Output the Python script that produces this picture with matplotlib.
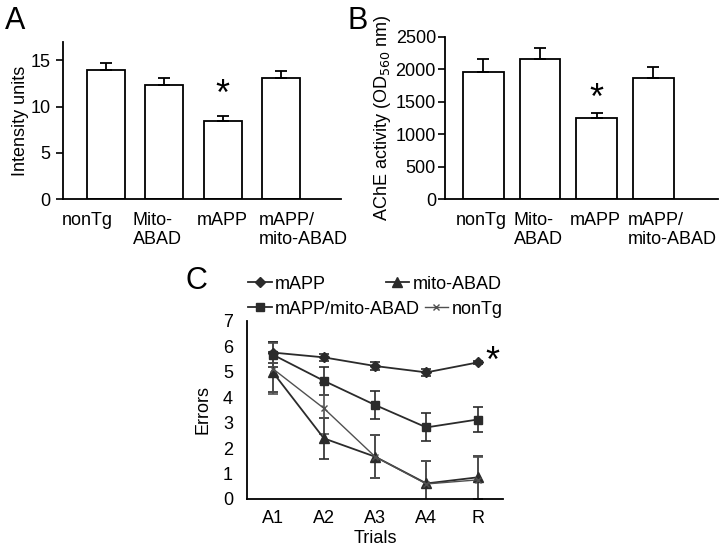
import numpy as np
import matplotlib
matplotlib.use('Agg')
from matplotlib import pyplot as plt
from matplotlib.lines import Line2D

plt.rcParams['font.family'] = ['Liberation Sans', 'DejaVu Sans']
plt.rcParams['font.size'] = 13

# panel A / B data
groups = ['nonTg', 'Mito-\nABAD', 'mAPP', 'mAPP/\nmito-ABAD']
intensity = [14.0, 12.35, 8.5, 13.1]
intensity_err = [0.75, 0.75, 0.45, 0.75]
ache = [1965, 2155, 1250, 1860]
ache_err = [190, 170, 82, 170]

# panel C data
trials = ['A1', 'A2', 'A3', 'A4', 'R']
err_mapp = [5.75, 5.56, 5.22, 4.97, 5.36]
err_mapp_sd = [0.4, 0.15, 0.15, 0.15, 0.07]
err_double = [5.67, 4.64, 3.69, 2.81, 3.12]
err_double_sd = [0.5, 0.55, 0.55, 0.55, 0.5]
err_mito = [4.99, 2.38, 1.66, 0.61, 0.85]
err_mito_sd = [0.8, 0.8, 0.85, 0.9, 0.85]
err_nontg = [5.12, 3.56, 1.66, 0.59, 0.75]
err_nontg_sd = [1.0, 1.0, 0.85, 0.9, 0.9]

fig = plt.figure(figsize=(7.2, 5.51), dpi=100)


def style_axes(ax, ticklen=5, ypad=4, xpad=9):
    for s in ['top', 'right']:
        ax.spines[s].set_visible(False)
    for s in ['left', 'bottom']:
        ax.spines[s].set_linewidth(1.3)
    ax.tick_params(axis='y', direction='out', length=ticklen, width=1.2, pad=ypad)
    ax.tick_params(axis='x', length=0, pad=xpad)


# ---- A
axA = fig.add_axes([0.0875, 0.6388, 0.3861, 0.285])
x = np.arange(len(groups))
axA.bar(x, intensity, width=0.65, color='white', edgecolor='black', linewidth=1.3,
        yerr=[np.zeros(len(x)), intensity_err], capsize=4,
        error_kw=dict(ecolor='black', elinewidth=1.3, capthick=1.3))
axA.set_xlim(-0.74, 4.03)
axA.set_ylim(0, 17)
axA.set_yticks([0, 5, 10, 15])
# labels sit a little off the bar centres in the original
axA.set_xticks(x + np.array([-0.33, -0.12, 0.0, 0.38]))
axA.set_xticklabels(groups, multialignment='left')
axA.set_ylabel('Intensity units', labelpad=1)
style_axes(axA)
axA.text(2, 11.2, '*', ha='center', va='center', fontsize=26)
fig.text(0.007, 0.99, 'A', fontsize=22, va='top')

# ---- B
axB = fig.add_axes([0.618, 0.6388, 0.379, 0.2941])
axB.bar(x, ache, width=0.72, color='white', edgecolor='black', linewidth=1.3,
        yerr=[np.zeros(len(x)), ache_err], capsize=4,
        error_kw=dict(ecolor='black', elinewidth=1.3, capthick=1.3))
axB.set_xlim(-0.68, 4.14)
axB.set_ylim(0, 2500)
axB.set_yticks([0, 500, 1000, 1500, 2000, 2500])
axB.set_xticks(x + np.array([-0.04, -0.03, -0.02, 0.34]))
axB.set_xticklabels(groups, multialignment='left')
axB.set_ylabel('AChE activity (OD$_{560}$ nm)', labelpad=2)
style_axes(axB, ypad=1.5)
axB.text(2, 1530, '*', ha='center', va='center', fontsize=26)
fig.text(0.483, 0.99, 'B', fontsize=22, va='top')

# ---- C
axC = fig.add_axes([0.343, 0.0944, 0.356, 0.3236])
t = np.arange(1, len(trials) + 1)
kw = dict(capsize=3.5, elinewidth=1.2, capthick=1.2)
axC.errorbar(t, err_mapp, yerr=err_mapp_sd, color='#2b2b2b', marker='D', ms=5,
             lw=1.3, label='mAPP', **kw)
axC.errorbar(t, err_double, yerr=err_double_sd, color='#2b2b2b', marker='s', ms=6,
             lw=1.3, label='mAPP/mito-ABAD', **kw)
axC.errorbar(t, err_mito, yerr=err_mito_sd, color='#2b2b2b', marker='^', ms=7,
             lw=1.3, label='mito-ABAD', **kw)
axC.errorbar(t, err_nontg, yerr=err_nontg_sd, color='#505050', marker='x', ms=4,
             lw=1.0, label='nonTg', **kw)
axC.set_xlim(0.5, 5.5)
axC.set_ylim(0, 7)
axC.set_yticks(range(8))
axC.set_xticks(t)
axC.set_xticklabels(trials)
axC.set_ylabel('Errors', labelpad=8)
axC.set_xlabel('Trials', labelpad=2)
style_axes(axC, ticklen=0, ypad=10, xpad=8)
axC.text(5.15, err_mapp[4], '*', ha='left', va='center', fontsize=26)
fig.text(0.258, 0.49, 'C', fontsize=22, va='center')


# legend in two rows, like the original
def handle(marker, ms, color='#2b2b2b', lw=1.3):
    return Line2D([], [], color=color, marker=marker, ms=ms, lw=lw)


fig.legend([handle('D', 5), handle('^', 7)], ['mAPP', 'mito-ABAD'],
           ncol=2, loc='center left', bbox_to_anchor=(0.322, 0.484),
           frameon=False, handlelength=1.3, handletextpad=0.2,
           columnspacing=3.3, fontsize=13)
fig.legend([handle('s', 6), handle('x', 4, '#505050', 1.0)], ['mAPP/mito-ABAD', 'nonTg'],
           ncol=2, loc='center left', bbox_to_anchor=(0.322, 0.439),
           frameon=False, handlelength=1.3, handletextpad=0.2,
           columnspacing=0.25, fontsize=13)

fig.savefig('out.png', dpi=100)
